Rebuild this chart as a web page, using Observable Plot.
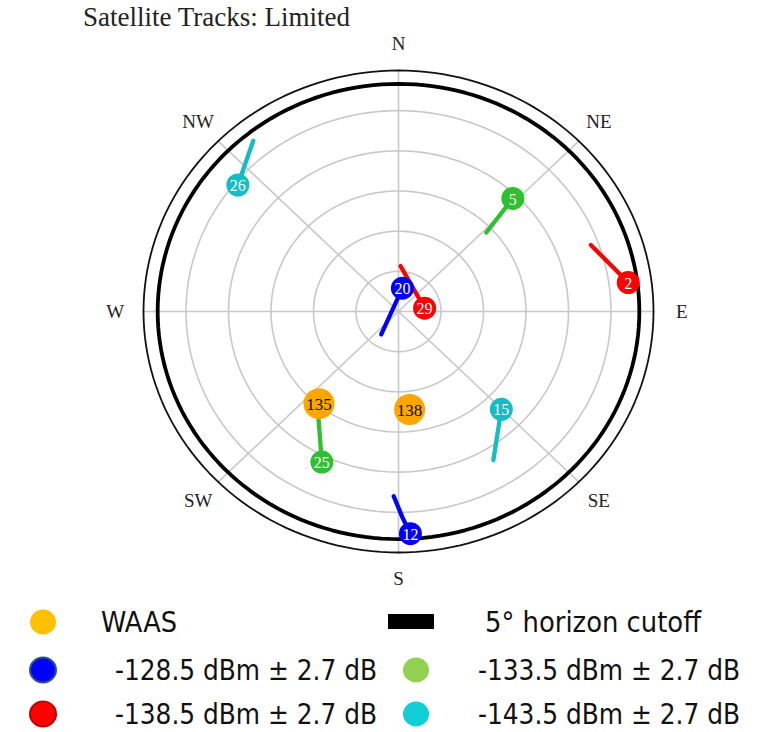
<!DOCTYPE html>
<html>
<head>
<meta charset="utf-8">
<script src="https://cdn.jsdelivr.net/npm/d3@7"></script>
<script src="https://cdn.jsdelivr.net/npm/@observablehq/plot@0.6"></script>
<style>
  html, body { margin: 0; padding: 0; background: #fff; }
  #page { width: 758px; height: 732px; position: relative; overflow: hidden; }
  #title { height: 30px; position: relative; }
  #title span { position: absolute; left: 83px; top: 4px; font-family: "Liberation Serif", "Times New Roman", serif; font-size: 27px; line-height: 1; color: #222; white-space: nowrap; }
  #chart svg { display: block; }
  #legend { display: block; }
</style>
</head>
<body>
<div id="page">
  <div id="title"><span>Satellite Tracks: Limited</span></div>
  <div id="chart"></div>
  <svg id="legend" width="758" height="142"></svg>
</div>
<script>
// ---- data ----
const chartTitle = "Satellite Tracks: Limited";
// satellites (latest position = marker)
const satIds   = ["26", "5", "2", "20", "29", "25", "15", "12"];
const satLevel = [3, 1, 2, 0, 2, 1, 3, 0];          // index into signal levels
const satAz    = [309.8, 43.7, 82.4, 9.0, 82.4, 205.7, 135.2, 177.1];
const satEl    = [16.2, 31.6, 8.2, 81.2, 80.7, 27.6, 38.5, 6.9];
// track history points (older positions), per satellite
const trackSat = ["26", "5", "2", "20", "29", "25", "15", "12", "12"];
const trackAz  = [321.2, 46.4, 69.9, 215.5, 2.4, 215.0, 148.9, 181.4, 179.0];
const trackEl  = [8.2, 47.2, 17.7, 79.5, 73.0, 40.8, 25.2, 21.0, 13.2];
// WAAS satellites
const waasIds = ["135", "138"];
const waasAz  = [219.2, 173.9];
const waasEl  = [45.6, 53.2];
// signal levels
const levelLabels = ["-128.5 dBm ± 2.7 dB", "-133.5 dBm ± 2.7 dB", "-138.5 dBm ± 2.7 dB", "-143.5 dBm ± 2.7 dB"];
const levelColors = ["#0000ff", "#2fc02f", "#ff0000", "#16bcc4"];
const legendColors = ["#0000ff", "#92d050", "#ff0000", "#10cdd6"];
const legendStrokes = ["#2f4f8f", "none", "#c00000", "none"];
const waasColor = "#ffa500";
const waasLegendColor = "#ffc000";
// grid
const ringElevations = [75, 60, 45, 30, 15];
const horizonEl = 0;
const cutoffEl = 5;
const spokeAz = [0, 45, 90, 135, 180, 225, 270, 315];
const compassLabels = ["N", "NE", "E", "SE", "S", "SW", "W", "NW"];
const compassAz = [0, 45, 90, 135, 180, 225, 270, 315];

// ---- polar helpers ----
const rad = Math.PI / 180;
const px = (az, el) => (90 - el) * Math.sin(az * rad);
const py = (az, el) => (90 - el) * Math.cos(az * rad);
function ring(el, key) {
  const pts = [];
  for (let a = 0; a <= 360; a += 2) pts.push({key, x: px(a, el), y: py(a, el)});
  return pts;
}

const ringPts = ringElevations.flatMap((e) => ring(e, e));
const horizonPts = ring(horizonEl, "h");
const cutoffPts = ring(cutoffEl, "c");
const spokes = spokeAz.map((a) => ({x1: 0, y1: 0, x2: px(a, -0.5), y2: py(a, -0.5)}));

const sats = satIds.map((id, i) => ({id, az: satAz[i], el: satEl[i], color: levelColors[satLevel[i]]}));
const tracks = [];
satIds.forEach((id, i) => {
  trackSat.forEach((s, j) => { if (s === id) tracks.push({sat: id, x: px(trackAz[j], trackEl[j]), y: py(trackAz[j], trackEl[j]), color: levelColors[satLevel[i]]}); });
  tracks.push({sat: id, x: px(satAz[i], satEl[i]), y: py(satAz[i], satEl[i]), color: levelColors[satLevel[i]]});
});
const satPts = sats.map((d) => ({...d, x: px(d.az, d.el), y: py(d.az, d.el)}));
const waasPts = waasIds.map((id, i) => ({id, x: px(waasAz[i], waasEl[i]), y: py(waasAz[i], waasEl[i])}));
const compass = compassLabels.map((t, i) => ({t, x: px(compassAz[i], -10), y: py(compassAz[i], -10)}));

const serif = "Liberation Serif, Times New Roman, serif";

const chart = Plot.plot({
  width: 758,
  height: 560,
  margin: 0,
  x: {domain: [-90, 90], range: [143, 653], axis: null},
  y: {domain: [-90, 90], range: [522, 40], axis: null},
  color: {type: "identity"},
  style: {background: "white", overflow: "visible"},
  marks: [
    Plot.line(ringPts, {x: "x", y: "y", z: "key", stroke: "#c8c8c8", strokeWidth: 1.6}),
    Plot.link(spokes, {x1: "x1", y1: "y1", x2: "x2", y2: "y2", stroke: "#c8c8c8", strokeWidth: 1.6}),
    Plot.line(horizonPts, {x: "x", y: "y", stroke: "#111", strokeWidth: 1.8}),
    Plot.line(cutoffPts, {x: "x", y: "y", stroke: "#000", strokeWidth: 3.8}),
    Plot.line(tracks, {x: "x", y: "y", z: "sat", stroke: "color", strokeWidth: 4.3, strokeLinecap: "round", strokeLinejoin: "round"}),
    Plot.dot(satPts, {x: "x", y: "y", r: 11.5, fill: "color", stroke: null}),
    Plot.text(satPts, {x: "x", y: "y", text: "id", fill: "white", fontSize: 16, fontFamily: serif, dy: 1}),
    Plot.dot(waasPts, {x: "x", y: "y", r: 15.5, fill: waasColor, stroke: null}),
    Plot.text(waasPts, {x: "x", y: "y", text: "id", fill: "#111", fontSize: 17, fontFamily: serif, dy: 1}),
    Plot.text(compass, {x: "x", y: "y", text: "t", fill: "#222", fontSize: 19, fontFamily: serif})
  ]
});
document.getElementById("chart").appendChild(chart);

// ---- legend ----
const lg = d3.select("#legend");
const sansFont = "Liberation Sans Narrow, DejaVu Sans Condensed, Roboto, sans-serif";
const fs = 28;
const rowY = [32, 80, 124];
const items = [
  {cx: 43, cy: rowY[0], fill: waasLegendColor, stroke: "none", label: "WAAS", tx: 101, w: 76},
  {cx: 43, cy: rowY[1], fill: legendColors[0], stroke: legendStrokes[0], label: levelLabels[0], tx: 115, w: 262},
  {cx: 416, cy: rowY[1], fill: legendColors[1], stroke: legendStrokes[1], label: levelLabels[1], tx: 478, w: 262},
  {cx: 43, cy: rowY[2], fill: legendColors[2], stroke: legendStrokes[2], label: levelLabels[2], tx: 115, w: 262},
  {cx: 416, cy: rowY[2], fill: legendColors[3], stroke: legendStrokes[3], label: levelLabels[3], tx: 478, w: 262}
];
items.forEach((d) => {
  lg.append("ellipse").attr("cx", d.cx).attr("cy", d.cy).attr("rx", 13).attr("ry", 12.5)
    .attr("fill", d.fill).attr("stroke", d.stroke).attr("stroke-width", 2);
  lg.append("text").attr("x", d.tx).attr("y", d.cy + 10).attr("font-family", sansFont).attr("font-size", fs)
    .attr("textLength", d.w).attr("lengthAdjust", "spacingAndGlyphs").attr("fill", "#111").text(d.label);
});
lg.append("rect").attr("x", 388).attr("y", 24).attr("width", 46).attr("height", 15).attr("fill", "#000");
lg.append("text").attr("x", 485).attr("y", rowY[0] + 10).attr("font-family", sansFont).attr("font-size", fs)
  .attr("textLength", 216).attr("lengthAdjust", "spacingAndGlyphs").attr("fill", "#111").text("5° horizon cutoff");
</script>
</body>
</html>
